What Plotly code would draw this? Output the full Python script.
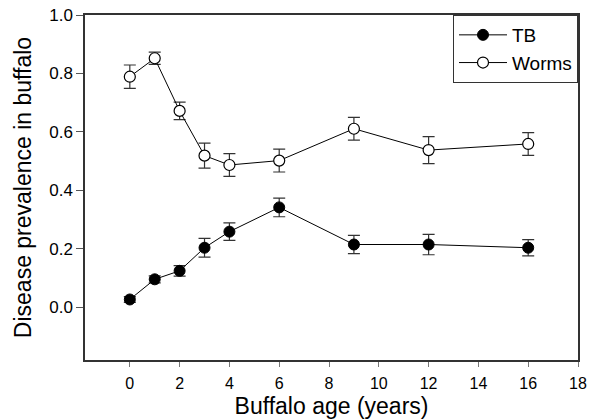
import plotly.graph_objects as go

ages = [0, 1, 2, 3, 4, 6, 9, 12, 16]
tb = [0.027, 0.096, 0.125, 0.204, 0.259, 0.342, 0.215, 0.215, 0.204]
tb_err = [0.010, 0.012, 0.018, 0.032, 0.030, 0.032, 0.031, 0.035, 0.028]
worms = [0.789, 0.852, 0.672, 0.519, 0.487, 0.502, 0.611, 0.538, 0.559]
worms_err = [0.040, 0.021, 0.030, 0.043, 0.039, 0.039, 0.039, 0.046, 0.039]
x_ticks = [0, 2, 4, 6, 8, 10, 12, 14, 16, 18]
y_ticks = [0.0, 0.2, 0.4, 0.6, 0.8, 1.0]

FONT = "Liberation Sans, Arial, Helvetica, sans-serif"

fig = go.Figure()
fig.add_trace(go.Scatter(
    x=ages, y=tb, name="TB", mode="lines+markers",
    line=dict(color="black", width=1),
    marker=dict(symbol="circle", size=11, color="black", line=dict(color="black", width=1)),
    error_y=dict(type="data", array=tb_err, visible=True, color="#333333", thickness=1.2, width=6),
))
fig.add_trace(go.Scatter(
    x=ages, y=worms, name="Worms", mode="lines+markers",
    line=dict(color="black", width=1),
    marker=dict(symbol="circle", size=11, color="white", line=dict(color="black", width=1.2)),
    error_y=dict(type="data", array=worms_err, visible=True, color="#333333", thickness=1.2, width=6),
))

fig.update_layout(
    width=595, height=419,
    margin=dict(l=85, r=17, t=15, b=59, autoexpand=False),
    paper_bgcolor="white", plot_bgcolor="white",
    font=dict(family=FONT, color="black", size=16),
    showlegend=True,
    legend=dict(
        x=1, y=1, xanchor="right", yanchor="top",
        bordercolor="#333333", borderwidth=1, bgcolor="white",
        font=dict(size=19), tracegroupgap=0,
        itemwidth=48,
    ),
)
fig.update_xaxes(
    range=[-1.8, 18], tickvals=x_ticks, ticktext=[str(v) for v in x_ticks],
    showgrid=False, zeroline=False, automargin=False,
    showline=True, linecolor="#333333", linewidth=1.5, mirror=True,
    ticks="outside", ticklen=5, tickcolor="#777777", tickwidth=1,
    tickfont=dict(size=16), ticklabelstandoff=3,
    title=dict(text="Buffalo age (years)", font=dict(size=23), standoff=9),
)
fig.update_yaxes(
    range=[-0.18, 1.0], tickvals=y_ticks, ticktext=[f"{v:.1f}" for v in y_ticks],
    showgrid=False, zeroline=False, automargin=False,
    showline=True, linecolor="#333333", linewidth=1.5, mirror=True,
    ticks="outside", ticklen=7, tickcolor="#555555", tickwidth=1,
    tickfont=dict(size=17),
    title=dict(text="Disease prevalence in buffalo", font=dict(size=23), standoff=11),
)

fig.write_html(
    "out.html",
    config={"displayModeBar": False},
    post_script="document.body.style.margin='0';document.body.style.overflow='hidden';",
)
